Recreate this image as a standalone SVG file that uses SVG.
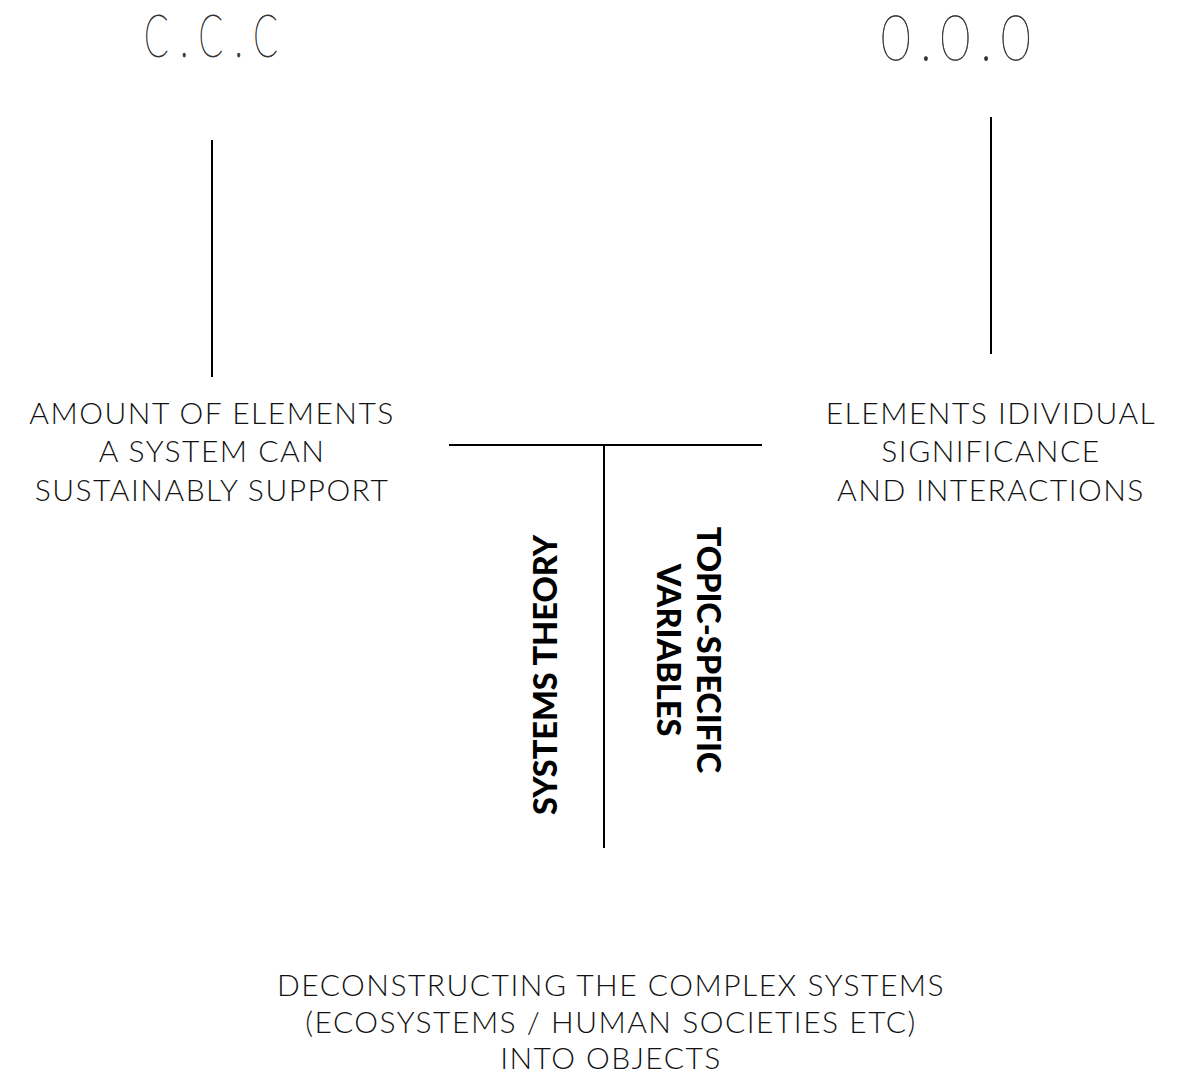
<svg xmlns="http://www.w3.org/2000/svg" width="1185" height="1074" viewBox="0 0 1185 1074">
<style>
.t{font-family:Lato,"Liberation Sans",sans-serif;font-weight:300;font-size:30px;fill:#111;text-anchor:middle;letter-spacing:1.5px}
.b{font-family:Lato,"Liberation Sans",sans-serif;font-weight:900;font-size:32.5px;fill:#000;text-anchor:middle}
.h{font-family:Lato,"DejaVu Sans",sans-serif;font-weight:100;fill:#333;stroke:#333}
.ln{stroke:#000;stroke-width:2;fill:none}
</style>
<rect width="1185" height="1074" fill="#fff"/>
<g id="connectors">
<line class="ln" x1="212" y1="140" x2="212" y2="377"/>
<line class="ln" x1="991" y1="117" x2="991" y2="354"/>
<line class="ln" x1="449" y1="445" x2="762" y2="445"/>
<line class="ln" x1="604" y1="446" x2="604" y2="848"/>
</g>
<g id="ccc"><text class="h" font-size="60" transform="scale(0.6 1)" stroke-width="0.9"><tspan x="240 300 331 391 422" y="57">C.C.C</tspan></text></g>
<g id="ooo"><text class="h" font-size="62" transform="scale(0.85 1)" stroke-width="0.6"><tspan x="1036 1082 1106 1153 1177" y="60">0.0.0</tspan></text></g>
<g id="left"><text class="t" x="212" y="424">AMOUNT OF ELEMENTS</text><text class="t" x="212" y="462">A SYSTEM CAN</text><text class="t" x="212" y="501">SUSTAINABLY SUPPORT</text></g>
<g id="right"><text class="t" x="991" y="424">ELEMENTS IDIVIDUAL</text><text class="t" x="991" y="462">SIGNIFICANCE</text><text class="t" x="991" y="501">AND INTERACTIONS</text></g>
<g id="bottom"><text class="t" x="611" y="996">DECONSTRUCTING THE COMPLEX SYSTEMS</text><text class="t" x="611" y="1033">(ECOSYSTEMS / HUMAN SOCIETIES ETC)</text><text class="t" x="611" y="1069">INTO OBJECTS</text></g>
<g id="systems"><text class="b" transform="translate(557 675) rotate(-90)">SYSTEMS THEORY</text></g>
<g id="topic"><text class="b" transform="translate(697 650) rotate(90)">TOPIC-SPECIFIC</text><text class="b" transform="translate(657 650) rotate(90)">VARIABLES</text></g>
</svg>
